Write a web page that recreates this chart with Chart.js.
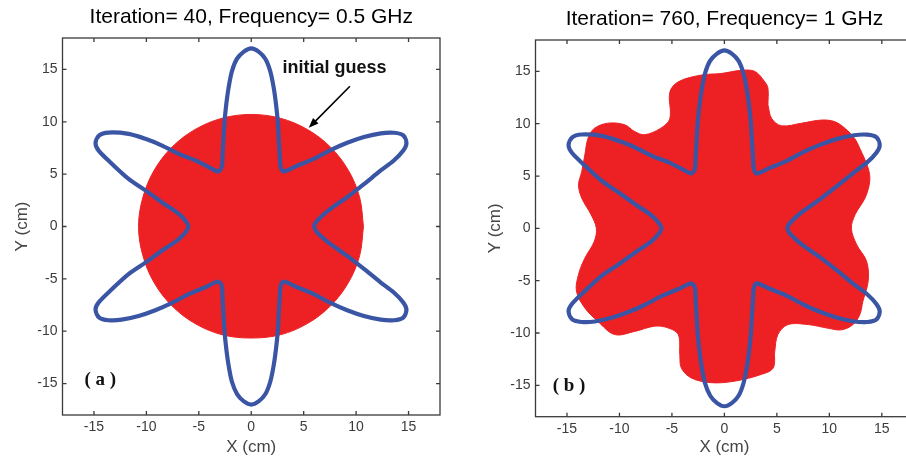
<!DOCTYPE html>
<html>
<head>
<meta charset="utf-8">
<title>Shape reconstruction</title>
<script src="https://cdn.jsdelivr.net/npm/chart.js@4.4.1/dist/chart.umd.min.js"></script>
<style>
  html, body { margin: 0; padding: 0; background: #fff; overflow: hidden; }
  body { width: 906px; height: 458px; position: relative; }
  .panel { position: absolute; top: 0; }
  #panelA { left: 0; width: 453px; }
  #panelB { left: 453px; width: 470px; }
</style>
</head>
<body>
<div class="panel" id="panelA"><canvas id="chartA" width="453" height="458"></canvas></div>
<div class="panel" id="panelB"><canvas id="chartB" width="470" height="458"></canvas></div>
<script>
// Tick positions (cm) on both axes
const xTicks = [-15, -10, -5, 0, 5, 10, 15];
const yTicks = [-15, -10, -5, 0, 5, 10, 15];

// True object outline (six-petal star), clockwise
const starX = [9.15, 7.56, 6.9, 6.2, 6.0, 6.2, 6.9, 7.56, 9.15, 10.75, 12.35, 13.6, 14.5, 14.8, 14.5, 13.62, 12.35, 10.75, 9.15, 7.56, 5.96, 4.37, 3.1,
  2.8, 2.72, 2.62, 2.53, 2.37, 2.15, 1.82, 1.35, 0.7, 0, -0.7, -1.35, -1.85, -2.17, -2.39, -2.55, -2.65, -2.74, -2.81, -3.15,
  -4.37, -5.96, -7.56, -9.15, -10.75, -12.35, -13.62, -14.5, -14.85, -14.55, -13.3, -11.7, -10.1, -8.5, -6.9, -6.2, -6.0,
  -6.2, -6.9, -8.5, -10.1, -11.7, -13.3, -14.55, -14.85, -14.5, -13.62, -11.7, -10.1, -8.5, -6.9, -5.3, -4.2, -3.15,
  -2.81, -2.74, -2.65, -2.55, -2.39, -2.17, -1.85, -1.37, -0.7, 0, 0.7, 1.35, 1.82, 2.15, 2.37, 2.53, 2.62, 2.72, 2.8, 3.1,
  4.37, 5.96, 7.56, 9.15, 10.75, 12.35, 13.62, 14.5, 14.8, 14.5, 13.6, 12.35, 10.75, 9.15];
const starY = [2.8, 1.68, 1.15, 0.45, 0, -0.45, -1.15, -1.68, -2.8, -4.05, -5.35, -6.3, -7.25, -7.95, -8.7, -8.95, -8.9, -8.55, -8.0, -7.3, -6.45, -5.8, -5.25,
  -5.7, -6.8, -8.4, -10.0, -11.6, -13.2, -14.8, -16.0, -16.7, -17.0, -16.7, -16.0, -14.8, -13.2, -11.6, -10.0, -8.4, -6.8, -5.7, -5.25,
  -5.8, -6.45, -7.3, -8.0, -8.55, -8.9, -8.95, -8.7, -7.95, -7.25, -6.0, -4.55, -3.45, -2.3, -1.2, -0.45, 0,
  0.45, 1.2, 2.3, 3.45, 4.55, 6.0, 7.25, 7.95, 8.7, 8.97, 8.84, 8.37, 7.73, 6.93, 6.3, 5.75, 5.25,
  5.7, 6.8, 8.4, 10.0, 11.6, 13.2, 14.8, 16.0, 16.7, 17.0, 16.7, 16.0, 14.8, 13.2, 11.6, 10.0, 8.4, 6.8, 5.7, 5.25,
  5.8, 6.45, 7.3, 8.0, 8.55, 8.9, 8.95, 8.7, 7.95, 7.25, 6.3, 5.35, 4.05, 2.8];

// Initial guess: disc, boundary points
const discX = [10.7, 10.34, 9.27, 7.57, 5.35, 2.77, 0, -2.77, -5.35, -7.57, -9.27, -10.34, -10.75, -10.34, -9.27, -7.57, -5.35, -2.77, 0, 2.77, 5.35, 7.57, 9.27, 10.34, 10.7];
const discY = [0, 2.77, 5.35, 7.57, 9.27, 10.34, 10.7, 10.34, 9.27, 7.57, 5.35, 2.77, 0, -2.77, -5.35, -7.57, -9.27, -10.34, -10.65, -10.34, -9.27, -7.57, -5.35, -2.77, 0];

// Reconstruction after 760 iterations, boundary points
const blobX = [4.15, 4.5, 5.45, 7.35, 9.25, 10.5, 11.5, 12.4, 12.9, 13.7, 13.85, 13.4, 12.45, 12.1, 12.6, 13.55, 13.7, 13.2, 12.9, 12.25, 11.15, 9.9, 8.0, 6.05,
  5.1, 4.8, 4.65, 3.55, 1.0, -1.25, -3.15, -4.1, -4.25, -4.4, -5.4, -6.65, -8.55, -10.45, -12.05, -13.3, -14.1, -13.9, -13.3, -12.4, -12.2,
  -12.7, -13.6, -13.9, -13.6, -13.3, -13.0, -12.4, -11.1, -9.5, -8.55, -7.6, -6.1, -5.2, -5.2, -4.4, -2.2, -0.3, 1.6, 2.9, 3.85, 4.15, 4.15];
const blobY = [11.8, 10.5, 9.8, 10.05, 10.35, 10.2, 9.55, 8.6, 7.65, 5.75, 4.5, 2.9, 1.3, 0, -1.55, -3.15, -5.05, -6.95, -8.25, -9.2, -9.7, -9.55, -9.2, -9.2,
  -10.15, -11.75, -13.35, -13.95, -14.6, -14.75, -14.3, -13.35, -12.05, -10.15, -9.5, -9.35, -9.85, -10.15, -8.9, -7.6, -6.0, -4.4, -2.85, -1.25, 0,
  1.3, 2.9, 4.15, 5.4, 7.0, 8.6, 9.55, 10.05, 9.9, 9.25, 8.95, 9.55, 10.5, 13.0, 14.0, 14.65, 14.8, 15.1, 15.0, 14.0, 13.4, 11.8];

const titleA = 'Iteration= 40, Frequency= 0.5 GHz';
const titleB = 'Iteration= 760, Frequency= 1 GHz';

const blue = '#3B55A5';
const red = '#ED2024';
const frameColor = '#3a3a3a';

function toPoints(xs, ys) {
    return xs.map((x, i) => ({ x: x, y: ys[i] }));
}

// Box around the plot with short inward ticks on all four sides
const frameTicks = {
    id: 'frameTicks',
    afterDatasetsDraw(chart) {
        const { ctx, chartArea: a, scales: { x, y } } = chart;
        ctx.save();
        ctx.strokeStyle = frameColor;
        ctx.lineWidth = 1.3;
        ctx.strokeRect(a.left, a.top, a.right - a.left, a.bottom - a.top);
        ctx.beginPath();
        xTicks.forEach(v => {
            const px = x.getPixelForValue(v);
            ctx.moveTo(px, a.bottom); ctx.lineTo(px, a.bottom - 4);
            ctx.moveTo(px, a.top); ctx.lineTo(px, a.top + 4);
        });
        yTicks.forEach(v => {
            const py = y.getPixelForValue(v);
            ctx.moveTo(a.left, py); ctx.lineTo(a.left + 4, py);
            ctx.moveTo(a.right, py); ctx.lineTo(a.right - 4, py);
        });
        ctx.stroke();
        ctx.restore();
    }
};

// Panel tag and the optional "initial guess" pointer
const overlay = {
    id: 'overlay',
    afterDatasetsDraw(chart, args, opts) {
        const { ctx, scales: { x, y } } = chart;
        ctx.save();
        ctx.fillStyle = '#111';
        ctx.textAlign = 'center';
        ctx.textBaseline = 'middle';
        ctx.font = 'bold 19px "Liberation Serif"';
        ctx.fillText(opts.tag, x.getPixelForValue(opts.tagAt[0]), y.getPixelForValue(opts.tagAt[1]));

        if (opts.note) {
            const n = opts.note;
            ctx.font = 'bold 18px "Liberation Sans"';
            ctx.fillText(n.text, x.getPixelForValue(n.at[0]), y.getPixelForValue(n.at[1]));

            const x0 = x.getPixelForValue(n.from[0]), y0 = y.getPixelForValue(n.from[1]);
            const x1 = x.getPixelForValue(n.to[0]), y1 = y.getPixelForValue(n.to[1]);
            const ang = Math.atan2(y1 - y0, x1 - x0);
            ctx.strokeStyle = '#000';
            ctx.lineWidth = 1.6;
            ctx.beginPath();
            ctx.moveTo(x0, y0);
            ctx.lineTo(x1 - 6 * Math.cos(ang), y1 - 6 * Math.sin(ang));
            ctx.stroke();
            // arrow head
            ctx.fillStyle = '#000';
            ctx.beginPath();
            ctx.moveTo(x1, y1);
            ctx.lineTo(x1 - 10 * Math.cos(ang) + 3.8 * Math.sin(ang), y1 - 10 * Math.sin(ang) - 3.8 * Math.cos(ang));
            ctx.lineTo(x1 - 10 * Math.cos(ang) - 3.8 * Math.sin(ang), y1 - 10 * Math.sin(ang) + 3.8 * Math.cos(ang));
            ctx.closePath();
            ctx.fill();
        }
        ctx.restore();
    }
};

function makeChart(canvasId, cfg) {
    const ctx = document.getElementById(canvasId).getContext('2d');
    return new Chart(ctx, {
        type: 'scatter',
        data: {
            datasets: [
                {
                    label: 'Object',
                    data: toPoints(starX, starY),
                    showLine: true,
                    fill: false,
                    borderColor: blue,
                    borderWidth: 4.2,
                    pointRadius: 0,
                    tension: 0.3
                },
                {
                    label: 'Reconstruction',
                    data: toPoints(cfg.shapeX, cfg.shapeY),
                    showLine: true,
                    fill: 'shape',
                    backgroundColor: red,
                    borderColor: red,
                    borderWidth: 1,
                    pointRadius: 0,
                    tension: 0.35
                }
            ]
        },
        options: {
            responsive: false,
            animation: false,
            events: [],
            layout: { padding: cfg.padding },
            scales: {
                x: {
                    type: 'linear',
                    min: -18,
                    max: 18,
                    afterBuildTicks: axis => { axis.ticks = xTicks.map(v => ({ value: v })); },
                    afterFit: axis => { axis.height = cfg.xAxisHeight; },
                    grid: { display: false, drawTicks: false },
                    border: { display: false },
                    ticks: {
                        padding: 4,
                        color: '#3c3c3c',
                        font: { family: '"Liberation Sans"', size: 14 },
                        callback: v => String(v)
                    },
                    title: {
                        display: true,
                        text: 'X (cm)',
                        color: '#454545',
                        font: { family: '"Liberation Sans"', size: 17 },
                        padding: { top: 0, bottom: 0 }
                    }
                },
                y: {
                    type: 'linear',
                    min: -18,
                    max: 18,
                    afterBuildTicks: axis => { axis.ticks = yTicks.map(v => ({ value: v })); },
                    afterFit: axis => { axis.width = 62.5; },
                    grid: { display: false, drawTicks: false },
                    border: { display: false },
                    ticks: {
                        padding: 5,
                        color: '#3c3c3c',
                        font: { family: '"Liberation Sans"', size: 14 },
                        callback: v => String(v)
                    },
                    title: {
                        display: true,
                        text: 'Y (cm)',
                        color: '#454545',
                        font: { family: '"Liberation Sans"', size: 17 },
                        padding: { top: 12.5, bottom: 0 }
                    }
                }
            },
            plugins: {
                legend: { display: false },
                tooltip: { enabled: false },
                title: {
                    display: true,
                    fullSize: false,
                    text: cfg.title,
                    color: '#000',
                    font: { family: '"Liberation Sans"', size: 21, weight: 'normal' },
                    padding: cfg.titlePadding
                },
                overlay: cfg.overlay
            }
        },
        plugins: [frameTicks, overlay]
    });
}

makeChart('chartA', {
    title: titleA,
    shapeX: discX,
    shapeY: discY,
    padding: { left: 0, right: 13, top: 0, bottom: 0 },
    xAxisHeight: 43,
    titlePadding: { top: 5, bottom: 7.8 },
    overlay: {
        tag: '( a )',
        tagAt: [-14.4, -14.7],
        note: { text: 'initial guess', at: [7.94, 15.1], from: [9.41, 13.39], to: [5.48, 9.42] }
    }
});

makeChart('chartB', {
    title: titleB,
    shapeX: blobX,
    shapeY: blobY,
    padding: { left: 20, right: 9.7, top: 0, bottom: 0 },
    xAxisHeight: 41.3,
    titlePadding: { top: 6.4, bottom: 8.4 },
    overlay: {
        tag: '( b )',
        tagAt: [-14.8, -15.1]
    }
});
</script>
</body>
</html>
